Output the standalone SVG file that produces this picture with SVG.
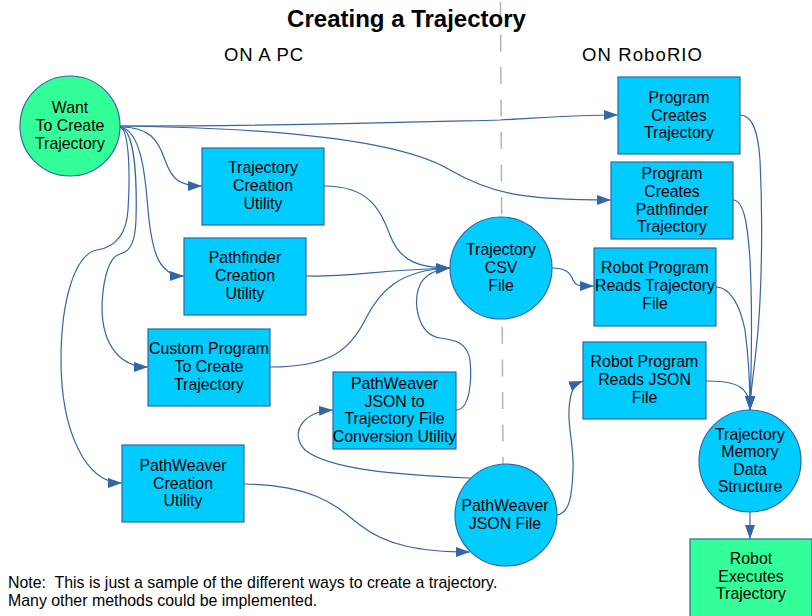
<svg xmlns="http://www.w3.org/2000/svg" width="812" height="616" viewBox="0 0 812 616">
<style>
.n{fill:#00ccff;stroke:#3465a4;stroke-width:1.2}
.g{fill:#33ff99;stroke:#3465a4;stroke-width:1.2}
.t{font-family:"Liberation Sans",Arial,sans-serif;font-size:15.9px;fill:#000;text-anchor:middle}
.c path{fill:none;stroke:#3465a4;stroke-width:1.2;marker-end:url(#ah)}
.h{font-family:"Liberation Sans",Arial,sans-serif;font-size:18.5px;fill:#000;text-anchor:middle}
.note{font-family:"Liberation Sans",Arial,sans-serif;font-size:15.9px;fill:#000;white-space:pre}
</style>
<defs>
<marker id="ah" viewBox="0 0 14 10" refX="14" refY="5" markerUnits="userSpaceOnUse" markerWidth="14" markerHeight="10" orient="auto">
<path d="M0,0 L14,5 L0,10 z" fill="#3465a4"/>
</marker>
</defs>
<rect width="812" height="616" fill="#fff"/>
<line x1="500.5" y1="2" x2="503" y2="468" stroke="#b3b3b3" stroke-width="1.5" stroke-dasharray="17 15.5"/>
<text x="406.5" y="27" font-family="Liberation Sans,Arial,sans-serif" font-size="24" font-weight="bold" text-anchor="middle">Creating a Trajectory</text>
<text class="h" x="263.5" y="61" textLength="79">ON A PC</text>
<text class="h" x="642" y="61" textLength="120">ON RoboRIO</text>

<g id="connectors" class="c">
<path d="M120,126 C 300,126 420,122 500,120 C 540,118 570,115 618,115"/>
<path d="M120,126 C 280,128 400,140 450,170 C 490,193 520,200 611,200"/>
<path d="M120,127 C 150,127 158,140 165,160 C 172,180 180,186 202,186"/>
<path d="M120,127 C 140,130 145,170 148,210 C 152,255 160,276 184,276"/>
<path d="M120,127 C 135,130 137,180 136,220 C 135,248 127,252 120,254 C 106,258 102,290 102,310 C 103,345 120,367 148,367"/>
<path d="M120,127 C 130,130 130,180 128,210 C 126,240 110,248 97,250 C 75,254 61,300 61,360 C 61,430 85,483 122,483"/>
<path d="M324,186 C 370,186 380,210 390,235 C 400,262 420,268 450,268"/>
<path d="M306,276 C 350,277 380,270 450,268"/>
<path d="M270,367 C 330,367 350,350 365,320 C 380,290 400,270 450,268"/>
<path d="M456,410 C 470,410 472,380 470,360 C 467,342 455,340 440,338 C 420,335 415,310 417,295 C 419,280 428,270 450,268"/>
<path d="M552,268 C 565,268 570,272 573,280 C 576,286 578,286 594,286"/>
<path d="M244,484 C 320,485 340,510 360,525 C 385,545 420,552 470,552"/>
<path d="M470,478 C 400,475 330,470 305,450 C 290,435 300,412 333,410"/>
<path d="M557,515 C 570,513 572,495 573,470 C 574,445 568,430 569,410 C 570,392 573,385 583,381"/>
<path d="M740,115 C 752,115 758,130 760,160 C 763,220 762,300 756,350 C 753,380 750,395 750,410"/>
<path d="M733,200 C 745,200 748,230 750,260 C 753,320 751,380 750,410"/>
<path d="M716,287 C 730,287 740,305 745,330 C 749,360 750,390 750,410"/>
<path d="M706,381 C 725,381 740,383 746,393 C 749,398 750,404 750,410"/>
<path d="M750,512 L750,539"/>
</g>

<g id="want">
<circle class="g" cx="70" cy="126" r="50"/>
<text class="t" x="70" y="113">Want</text>
<text class="t" x="70" y="131">To Create</text>
<text class="t" x="70" y="149">Trajectory</text>
</g>
<g id="tcu">
<rect class="n" x="202" y="148" width="122" height="77"/>
<text class="t" x="263" y="173">Trajectory</text>
<text class="t" x="263" y="191">Creation</text>
<text class="t" x="263" y="209">Utility</text>
</g>
<g id="pcu">
<rect class="n" x="184" y="238" width="122" height="77"/>
<text class="t" x="245" y="263">Pathfinder</text>
<text class="t" x="245" y="281">Creation</text>
<text class="t" x="245" y="299">Utility</text>
</g>
<g id="custom">
<rect class="n" x="148" y="329" width="122" height="77"/>
<text class="t" x="209" y="354">Custom Program</text>
<text class="t" x="209" y="372">To Create</text>
<text class="t" x="209" y="390">Trajectory</text>
</g>
<g id="pwcu">
<rect class="n" x="122" y="445" width="122" height="77"/>
<text class="t" x="183" y="471">PathWeaver</text>
<text class="t" x="183" y="489">Creation</text>
<text class="t" x="183" y="506">Utility</text>
</g>
<g id="conv">
<rect class="n" x="333" y="372" width="123" height="77"/>
<text class="t" x="394.5" y="389">PathWeaver</text>
<text class="t" x="394.5" y="407">JSON to</text>
<text class="t" x="394.5" y="424">Trajectory File</text>
<text class="t" x="394.5" y="442">Conversion Utility</text>
</g>
<g id="csv">
<circle class="n" cx="501" cy="268" r="51"/>
<text class="t" x="501" y="255">Trajectory</text>
<text class="t" x="501" y="273">CSV</text>
<text class="t" x="501" y="291">File</text>
</g>
<g id="json">
<circle class="n" cx="506" cy="515" r="51"/>
<text class="t" x="505" y="511">PathWeaver</text>
<text class="t" x="505" y="529">JSON File</text>
</g>
<g id="pct">
<rect class="n" x="618" y="77" width="122" height="77"/>
<text class="t" x="679" y="103">Program</text>
<text class="t" x="679" y="121">Creates</text>
<text class="t" x="679" y="138">Trajectory</text>
</g>
<g id="pcpt">
<rect class="n" x="611" y="162" width="122" height="77"/>
<text class="t" x="672" y="179">Program</text>
<text class="t" x="672" y="197">Creates</text>
<text class="t" x="672" y="215">Pathfinder</text>
<text class="t" x="672" y="232">Trajectory</text>
</g>
<g id="rprt">
<rect class="n" x="594" y="248" width="122" height="78"/>
<text class="t" x="655" y="273">Robot Program</text>
<text class="t" x="655" y="291">Reads Trajectory</text>
<text class="t" x="655" y="309">File</text>
</g>
<g id="rprj">
<rect class="n" x="583" y="342" width="123" height="77"/>
<text class="t" x="644.5" y="367">Robot Program</text>
<text class="t" x="644.5" y="385">Reads JSON</text>
<text class="t" x="644.5" y="403">File</text>
</g>
<g id="mem">
<circle class="n" cx="750" cy="461" r="51"/>
<text class="t" x="750" y="440">Trajectory</text>
<text class="t" x="750" y="457">Memory</text>
<text class="t" x="750" y="475">Data</text>
<text class="t" x="750" y="492">Structure</text>
</g>
<g id="exec">
<rect class="g" x="690" y="539" width="122" height="78"/>
<text class="t" x="751" y="564">Robot</text>
<text class="t" x="751" y="582">Executes</text>
<text class="t" x="751" y="599">Trajectory</text>
</g>
<text class="note" x="8" y="588">Note:  This is just a sample of the different ways to create a trajectory.</text>
<text class="note" x="8" y="606">Many other methods could be implemented.</text>
</svg>
